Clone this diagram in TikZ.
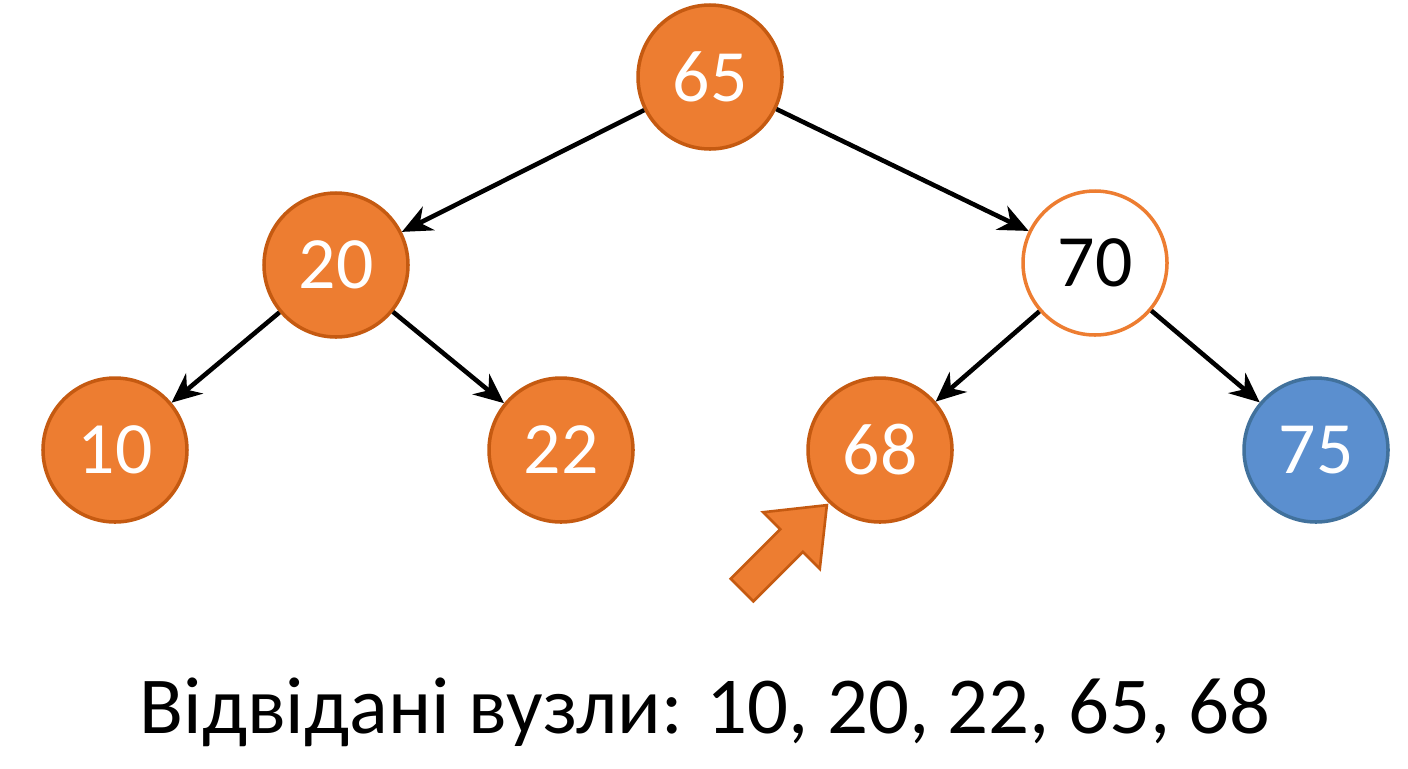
\documentclass[tikz,border=0pt]{standalone}
\usepackage{fontspec}
\setmainfont{Carlito}
\usetikzlibrary{arrows.meta}
\definecolor{org}{HTML}{ED7D31}
\definecolor{orgd}{HTML}{C55A11}
\definecolor{blu}{HTML}{5B8FCF}
\definecolor{blud}{HTML}{41719C}
\begin{document}
\begin{tikzpicture}[x=0.02cm,y=-0.02cm,
  nd/.style={circle,minimum size=144*0.02cm,inner sep=0pt,line width=2pt,draw=orgd,fill=org,text=white,font=\fontsize{42}{42}\selectfont},
  wn/.style={nd,fill=white,draw=org,text=black},
  bn/.style={nd,fill=blu,draw=blud},
  ed/.style={-{Stealth[length=17pt,width=15pt]},line width=2.6pt,black}]
\useasboundingbox (0,0) rectangle (1408,768);
\node[nd] (n65) at (710,77) {65};
\node[nd] (n20) at (336,265) {20};
\node[wn] (n70) at (1095,263) {70};
\node[nd] (n10) at (115,450) {10};
\node[nd] (n22) at (561,450) {22};
\node[nd] (n68) at (880,450) {68};
\node[bn] (n75) at (1316,450) {75};
\draw[ed] (n65) -- (n20);
\draw[ed] (n65) -- (n70);
\draw[ed] (n20) -- (n10);
\draw[ed] (n20) -- (n22);
\draw[ed] (n70) -- (n68);
\draw[ed] (n70) -- (n75);
\begin{scope}[shift={(742,590)},rotate=45]
\draw[fill=org,draw=orgd,line width=1.5pt,line join=miter]
  (0,-16) -- (70,-16) -- (70,-40) -- (120,0) -- (70,40) -- (70,16) -- (0,16) -- cycle;
\end{scope}
\node[font=\fontsize{46}{46}\selectfont] (cap) at (705,712) {Відвідані вузли: 10, 20, 22, 65, 68};
\end{tikzpicture}
\end{document}
